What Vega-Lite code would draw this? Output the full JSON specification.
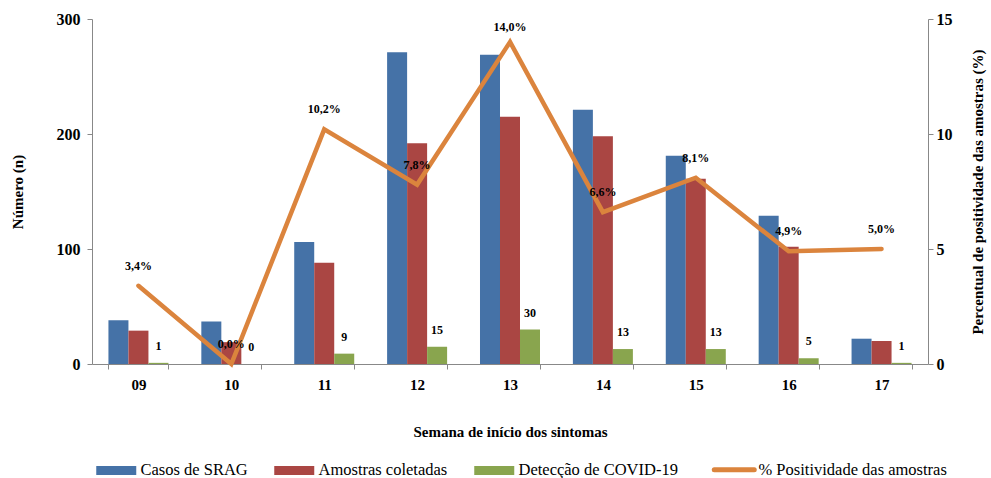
{
  "$schema": "https://vega.github.io/schema/vega-lite/v6.json",
  "width": 836,
  "height": 345,
  "autosize": {"type": "none"},
  "padding": {"left": 92, "top": 19, "right": 63, "bottom": 114},
  "background": "white",
  "config": {
    "view": {"stroke": null},
    "font": "Liberation Serif",
    "legend": {"labelFont": "Liberation Serif", "titleFont": "Liberation Serif"},
    "text": {"font": "Liberation Serif"},
    "axis": {
      "grid": false,
      "domainColor": "#888888",
      "tickColor": "#888888",
      "tickSize": 5,
      "labelFont": "Liberation Serif",
      "labelFontWeight": "bold",
      "labelColor": "black",
      "titleFont": "Liberation Serif",
      "titleFontWeight": "bold",
      "titleColor": "black"
    }
  },
  "datasets": {
    "bars": [
      {"semana": "09", "serie": "Casos de SRAG", "valor": 38},
      {"semana": "10", "serie": "Casos de SRAG", "valor": 37},
      {"semana": "11", "serie": "Casos de SRAG", "valor": 106},
      {"semana": "12", "serie": "Casos de SRAG", "valor": 271},
      {"semana": "13", "serie": "Casos de SRAG", "valor": 269},
      {"semana": "14", "serie": "Casos de SRAG", "valor": 221},
      {"semana": "15", "serie": "Casos de SRAG", "valor": 181},
      {"semana": "16", "serie": "Casos de SRAG", "valor": 129},
      {"semana": "17", "serie": "Casos de SRAG", "valor": 22},
      {"semana": "09", "serie": "Amostras coletadas", "valor": 29},
      {"semana": "10", "serie": "Amostras coletadas", "valor": 19},
      {"semana": "11", "serie": "Amostras coletadas", "valor": 88},
      {"semana": "12", "serie": "Amostras coletadas", "valor": 192},
      {"semana": "13", "serie": "Amostras coletadas", "valor": 215},
      {"semana": "14", "serie": "Amostras coletadas", "valor": 198},
      {"semana": "15", "serie": "Amostras coletadas", "valor": 161},
      {"semana": "16", "serie": "Amostras coletadas", "valor": 102},
      {"semana": "17", "serie": "Amostras coletadas", "valor": 20},
      {"semana": "09", "serie": "Detecção de COVID-19", "valor": 1},
      {"semana": "10", "serie": "Detecção de COVID-19", "valor": 0},
      {"semana": "11", "serie": "Detecção de COVID-19", "valor": 9},
      {"semana": "12", "serie": "Detecção de COVID-19", "valor": 15},
      {"semana": "13", "serie": "Detecção de COVID-19", "valor": 30},
      {"semana": "14", "serie": "Detecção de COVID-19", "valor": 13},
      {"semana": "15", "serie": "Detecção de COVID-19", "valor": 13},
      {"semana": "16", "serie": "Detecção de COVID-19", "valor": 5},
      {"semana": "17", "serie": "Detecção de COVID-19", "valor": 1}
    ],
    "linha": [
      {"semana": "09", "pct": 3.4},
      {"semana": "10", "pct": 0.0},
      {"semana": "11", "pct": 10.2},
      {"semana": "12", "pct": 7.8},
      {"semana": "13", "pct": 14.0},
      {"semana": "14", "pct": 6.6},
      {"semana": "15", "pct": 8.1},
      {"semana": "16", "pct": 4.9},
      {"semana": "17", "pct": 5.0}
    ]
  },
  "layer": [
    {
      "data": {"name": "bars"},
      "encoding": {
        "x": {
          "field": "semana",
          "type": "nominal",
          "scale": {"paddingInner": 0.354, "paddingOuter": 0.177},
          "axis": {
            "title": "Semana de início dos  sintomas",
            "labelAngle": 0,
            "labelFontSize": 15,
            "labelPadding": 8,
            "titleFontSize": 15,
            "titlePadding": 32,
            "tickBand": "extent"
          }
        },
        "xOffset": {
          "field": "serie",
          "type": "nominal",
          "scale": {"domain": ["Casos de SRAG", "Amostras coletadas", "Detecção de COVID-19"], "paddingInner": 0, "paddingOuter": 0}
        },
        "y": {
          "field": "valor",
          "type": "quantitative",
          "scale": {"domain": [0, 300], "nice": false},
          "axis": {
            "orient": "left",
            "values": [0, 100, 200, 300],
            "title": "Número (n)",
            "labelFontSize": 16,
            "labelPadding": 7,
            "titleFontSize": 15,
            "titlePadding": 31
          }
        }
      },
      "layer": [
        {
          "mark": {"type": "bar"},
          "encoding": {
            "color": {
              "field": "serie",
              "type": "nominal",
              "scale": {
                "domain": ["Casos de SRAG", "Amostras coletadas", "Detecção de COVID-19", "% Positividade das amostras"],
                "range": ["#4572A7", "#AA4643", "#89A54E", "#DB843D"]
              },
              "legend": {
                "orient": "none",
                "direction": "horizontal",
                "legendX": 16,
                "legendY": 442,
                "title": null,
                "labelFont": "Liberation Serif",
                "labelFontSize": 16.5,
                "labelFontWeight": "normal",
                "labelColor": "black",
                "labelLimit": 0,
                "symbolSize": 400,
                "labelOffset": 16,
                "columnPadding": 26,
                "symbolType": "M-2,-0.45H2V0.45H-2Z",
                "encode": {
                  "labels": {
                    "update": {
                      "font": {"value": "Liberation Serif"},
                      "fontSize": {"value": 16.5}
                    }
                  },
                  "symbols": {
                    "update": {
                      "shape": {"signal": "datum.value === '% Positividade das amostras' ? 'M-2,0H2' : 'M-2,-0.45H2V0.45H-2Z'"},
                      "fill": {"signal": "datum.value === '% Positividade das amostras' ? 'transparent' : scale('color', datum.value)"},
                      "stroke": {"signal": "scale('color', datum.value)"},
                      "strokeWidth": {"signal": "datum.value === '% Positividade das amostras' ? 5 : 0"},
                      "strokeCap": {"value": "round"},
                      "opacity": {"value": 1}
                    }
                  }
                }
              }
            }
          }
        },
        {
          "transform": [{"filter": "datum.serie === 'Detecção de COVID-19'"}],
          "mark": {"type": "text", "fontWeight": "bold", "fontSize": 12, "dy": -17, "font": "Liberation Serif", "color": "black"},
          "encoding": {
            "text": {"field": "valor", "type": "quantitative"}
          }
        }
      ]
    },
    {
      "data": {"name": "linha"},
      "encoding": {
        "x": {"field": "semana", "type": "nominal"},
        "y": {
          "field": "pct",
          "type": "quantitative",
          "scale": {"domain": [0, 15], "nice": false},
          "axis": {
            "orient": "right",
            "values": [0, 5, 10, 15],
            "title": "Percentual de positividade das amostras (%)",
            "titleAngle": 270,
            "labelFontSize": 16,
            "labelPadding": 3,
            "titleFontSize": 15,
            "titlePadding": 33
          }
        }
      },
      "layer": [
        {
          "mark": {"type": "line", "strokeWidth": 4.5, "strokeCap": "round", "strokeJoin": "miter"},
          "encoding": {
            "color": {"datum": "% Positividade das amostras", "type": "nominal"}
          }
        },
        {
          "mark": {
            "type": "text",
            "fontWeight": "bold",
            "fontSize": 12,
            "dy": {"expr": "datum.pct > 13 ? -15 : -20"},
            "font": "Liberation Serif",
            "color": "black",
            "text": {"expr": "replace(format(datum.pct, '.1f'), '.', ',') + '%'"}
          },
          "encoding": {}
        }
      ]
    }
  ],
  "resolve": {"scale": {"y": "independent"}}
}
